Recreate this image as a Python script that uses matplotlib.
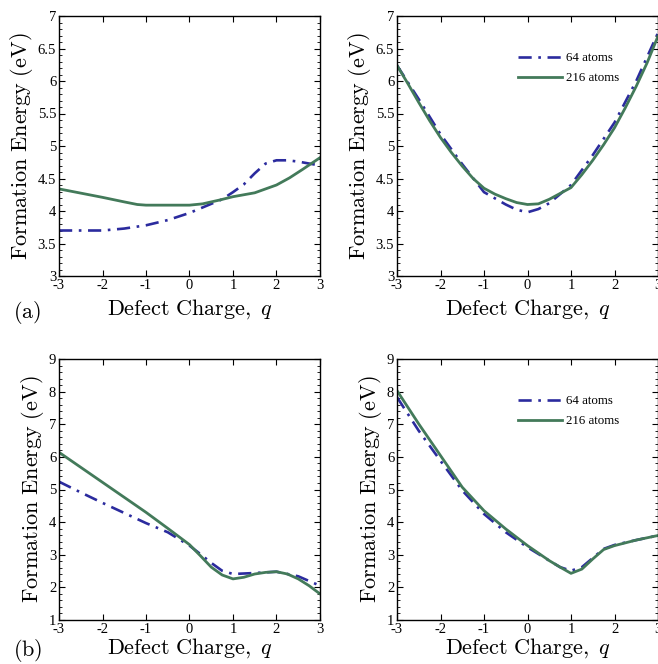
import numpy as np
import matplotlib
matplotlib.use("Agg")
import matplotlib.pyplot as plt
from matplotlib.ticker import MultipleLocator, FuncFormatter

plt.rcParams['mathtext.fontset'] = 'cm'
plt.rcParams['font.family'] = ['Liberation Serif', 'DejaVu Serif']

# ---- data ----
# panel (a), left
qa_216 = [-3, -2, -1.5, -1.2, -1, 0, 0.3, 0.7, 1, 1.5, 2, 2.3, 2.6, 3]
ea_216 = [4.34, 4.21, 4.14, 4.10, 4.09, 4.09, 4.11, 4.17, 4.22, 4.28, 4.40, 4.51, 4.64, 4.82]
qa_64 = [-3, -2.5, -2, -1.5, -1, -0.5, 0, 0.5, 0.75, 1, 1.25, 1.5, 1.75, 2, 2.25, 2.5, 2.75, 3]
ea_64 = [3.70, 3.70, 3.70, 3.73, 3.78, 3.86, 3.97, 4.11, 4.18, 4.29, 4.41, 4.58, 4.73, 4.78, 4.78, 4.76, 4.73, 4.70]

# panel (a), right
qa2_216 = [-3, -2.75, -2.5, -2.25, -2, -1.75, -1.5, -1.25, -1, -0.75, -0.5, -0.25, 0,
           0.25, 0.5, 0.75, 1, 1.25, 1.5, 1.75, 2, 2.25, 2.5, 2.75, 3]
ea2_216 = [6.24, 5.96, 5.67, 5.39, 5.13, 4.90, 4.69, 4.50, 4.35, 4.26, 4.19, 4.13, 4.10,
           4.11, 4.18, 4.27, 4.36, 4.56, 4.78, 5.02, 5.28, 5.59, 5.92, 6.28, 6.69]
qa2_64 = [-3, -2.5, -2, -1.5, -1, -0.5, -0.25, 0, 0.25, 0.5, 1, 1.5, 2, 2.5, 3]
ea2_64 = [6.24, 5.72, 5.18, 4.72, 4.29, 4.10, 4.02, 3.98, 4.03, 4.12, 4.40, 4.86, 5.36, 6.00, 6.74]

# panel (b), left
qb_216 = [-3, -2, -1, -0.5, 0, 0.25, 0.5, 0.75, 1, 1.25, 1.5, 1.75, 2, 2.25, 2.5, 2.75, 3]
eb_216 = [6.14, 5.22, 4.30, 3.81, 3.31, 2.97, 2.62, 2.38, 2.26, 2.31, 2.41, 2.46, 2.48, 2.41, 2.26, 2.05, 1.80]
qb_64 = [-3, -2.5, -2, -1.5, -1, -0.5, 0, 0.25, 0.5, 0.75, 1, 1.5, 2, 2.5, 3]
eb_64 = [5.24, 4.91, 4.59, 4.28, 3.97, 3.69, 3.28, 3.02, 2.75, 2.51, 2.41, 2.44, 2.48, 2.34, 2.05]

# panel (b), right
qb2_216 = [-3, -2.5, -2, -1.5, -1, -0.5, 0, 0.5, 0.75, 1, 1.25, 1.5, 1.75, 2, 2.5, 3]
eb2_216 = [8.03, 7.01, 6.04, 5.07, 4.35, 3.79, 3.28, 2.82, 2.62, 2.43, 2.56, 2.87, 3.16, 3.28, 3.45, 3.59]
qb2_64 = [-3, -2.5, -2, -1.5, -1, -0.5, 0, 0.5, 0.75, 1, 1.25, 1.5, 1.75, 2, 2.5, 3]
eb2_64 = [7.83, 6.80, 5.88, 4.97, 4.25, 3.69, 3.23, 2.82, 2.62, 2.51, 2.62, 2.90, 3.18, 3.30, 3.45, 3.59]

series_labels = ['64 atoms', '216 atoms']
x_ticks = [-3, -2, -1, 0, 1, 2, 3]

BLUE = '#2b2b9e'
GREEN = '#437a5a'
DASHDOT = (0, (5, 2.5, 1, 2.5))

fig = plt.figure(figsize=(6.58, 6.64), dpi=100)
W = 261 / 658
positions = [
    (59 / 658, 1 - 276 / 664, W, 260 / 664),
    (397 / 658, 1 - 276 / 664, W, 260 / 664),
    (59 / 658, 1 - 620 / 664, W, 261 / 664),
    (397 / 658, 1 - 620 / 664, W, 261 / 664),
]
panels = [
    (qa_64, ea_64, qa_216, ea_216, (3, 7), 0.5, 0.1, False, 4),
    (qa2_64, ea2_64, qa2_216, ea2_216, (3, 7), 0.5, 0.1, True, 4),
    (qb_64, eb_64, qb_216, eb_216, (1, 9), 1, 0.2, False, 0.5),
    (qb2_64, eb2_64, qb2_216, eb2_216, (1, 9), 1, 0.2, True, 0.5),
]

for pos, (x1, y1, x2, y2, ylim, maj, mino, leg, lpad) in zip(positions, panels):
    ax = fig.add_axes(pos)
    ax.plot(x1, y1, color=BLUE, lw=1.9, linestyle=DASHDOT, label=series_labels[0])
    ax.plot(x2, y2, color=GREEN, lw=2.0, label=series_labels[1])
    ax.set_xlim(-3, 3)
    ax.set_ylim(*ylim)
    ax.set_xticks(x_ticks)
    ax.set_xticklabels([str(t) for t in x_ticks])
    ax.yaxis.set_major_locator(MultipleLocator(maj))
    ax.yaxis.set_minor_locator(MultipleLocator(mino))
    ax.yaxis.set_major_formatter(FuncFormatter(lambda v, p: ('%g' % v)))
    ax.tick_params(which='both', direction='in', top=True, right=True, labelsize=10.5)
    ax.tick_params(which='major', length=4, width=0.8, pad=2)
    ax.tick_params(which='minor', length=2, width=0.6)
    for s in ax.spines.values():
        s.set_linewidth(1.0)
    ax.set_xlabel(r'$\mathrm{Defect\ Charge,}$ $q$', fontsize=16, labelpad=lpad)
    ax.set_ylabel(r'$\mathrm{Formation\ Energy\ (eV)}$', fontsize=16, labelpad=2)
    if leg:
        ax.legend(loc='upper left', bbox_to_anchor=(0.42, 0.905), frameon=False,
                  fontsize=9.3, handlelength=3.4, handletextpad=0.3, labelspacing=0.6)

fig.text(13 / 658, 1 - 312 / 664, r'$\mathrm{(a)}$', fontsize=16, va='center', ha='left')
fig.text(13 / 658, 1 - 650 / 664, r'$\mathrm{(b)}$', fontsize=16, va='center', ha='left')

fig.savefig('out.png', dpi=100)
